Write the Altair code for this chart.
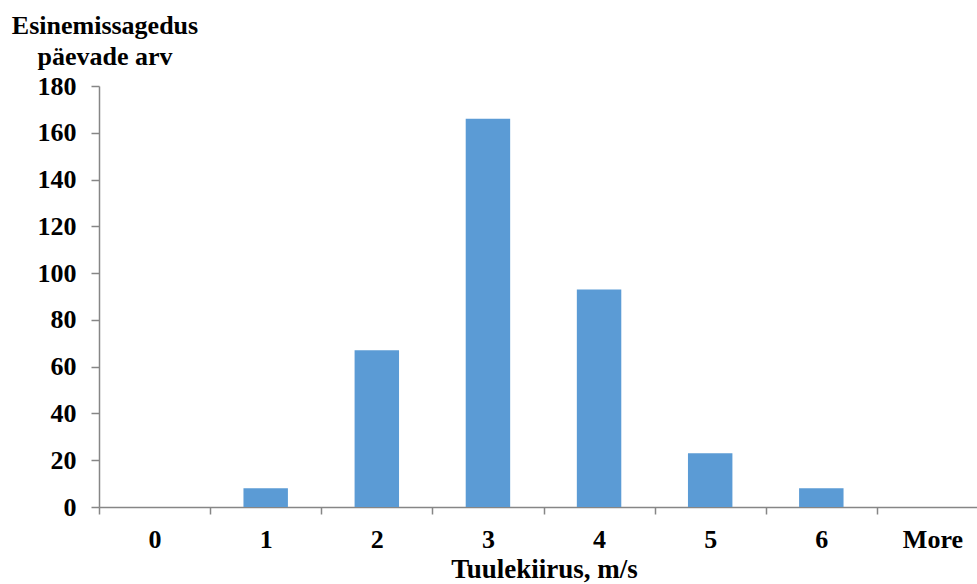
import altair as alt
import pandas as pd

categories = ["0", "1", "2", "3", "4", "5", "6", "More"]
counts = [0, 8, 67, 166, 93, 23, 8, 0]
y_ticks = [0, 20, 40, 60, 80, 100, 120, 140, 160, 180]

df = pd.DataFrame({"cat": categories, "count": counts})

FONT = "Liberation Serif"
AXIS_COLOR = "#868686"

chart = alt.Chart(df).mark_bar(
    color="#5B9BD5", width=alt.RelativeBandSize(0.4)
).encode(
    x=alt.X(
        "cat:N",
        sort=categories,
        scale=alt.Scale(range=[0, 889], paddingInner=0, paddingOuter=0),
        axis=alt.Axis(
            title="Tuulekiirus, m/s",
            titleFont=FONT, titleFontSize=27, titleFontWeight="bold", titleColor="black",
            titleBaseline="alphabetic", titleY=70, titleX=445, titleAnchor="middle",
            labelFont=FONT, labelFontSize=26, labelFontWeight="bold", labelColor="black",
            labelAngle=0, labelBaseline="alphabetic", labelPadding=33,
            tickBand="extent", tickSize=7, tickColor=AXIS_COLOR, tickWidth=1.5,
            domainColor=AXIS_COLOR, domainWidth=1.5, grid=False,
        ),
    ),
    y=alt.Y(
        "count:Q",
        scale=alt.Scale(domain=[0, 180], nice=False),
        axis=alt.Axis(
            title=["Esinemissagedus", "päevade arv"],
            titleFont=FONT, titleFontSize=26, titleFontWeight="bold", titleColor="black",
            titleAngle=0, titleAlign="center", titleBaseline="alphabetic",
            titleX=5.5, titleY=-53, titleLineHeight=31,
            labelFont=FONT, labelFontSize=26, labelFontWeight="bold", labelColor="black",
            labelPadding=15, values=y_ticks,
            tickSize=8, tickColor=AXIS_COLOR, tickWidth=1.5,
            domainColor=AXIS_COLOR, domainWidth=1.5, grid=False,
        ),
    ),
).properties(
    width=878,
    height=421,
    autosize=alt.AutoSizeParams(type="none"),
    padding={"left": 99, "top": 86, "right": 0, "bottom": 77},
).configure_view(stroke=None)

chart.save("out.html", embed_options={"renderer": "svg", "actions": False})
